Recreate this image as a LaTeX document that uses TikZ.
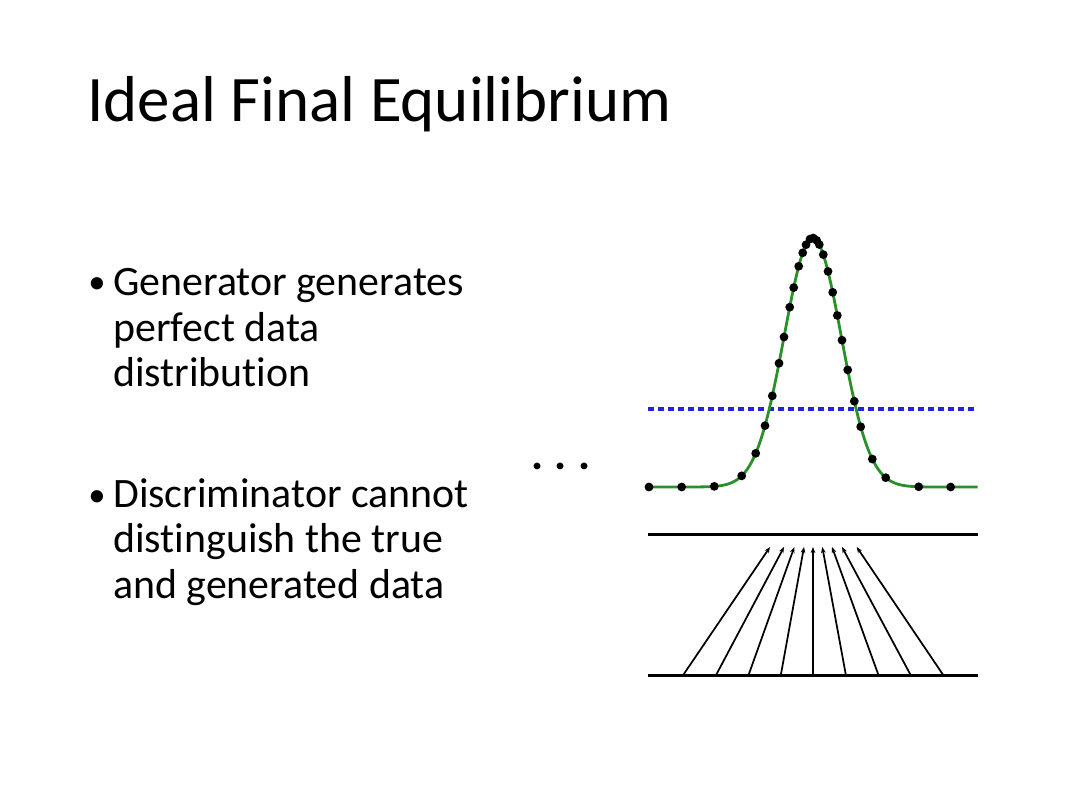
\documentclass[tikz,border=0pt]{standalone}
\usepackage{fontspec}
\setmainfont{Carlito}[Ligatures=NoCommon]
\usetikzlibrary{arrows.meta, positioning}
\definecolor{verde}{RGB}{40,145,40}
\definecolor{azul}{RGB}{35,35,215}

\begin{document}
\begin{tikzpicture}[
        x=0.75pt, y=-0.75pt,
        titulo/.style={anchor=base west, inner sep=0pt, font=\fontsize{48.7}{58}\selectfont},
        topico/.style={anchor=base west, inner sep=0pt, align=left, font=\fontsize{31.4}{34.05}\selectfont},
        marcador/.style={anchor=base west, inner sep=0pt, font=\fontsize{26}{30}\selectfont},
        curva/.style={verde, line width=2.1pt},
        amostra/.style={fill=black},
        limiar/.style={azul, line width=2.4pt, dash pattern=on 4.5pt off 3pt},
        eixo/.style={black, line width=2.2pt},
        seta/.style={black, line width=1.3pt, -{Stealth[length=4.5pt, width=3.5pt]}}
    ]
    \useasboundingbox (0,0) rectangle (1080,810);

    \node[titulo] (titulo) at (87,121) {Ideal Final Equilibrium};

    % base de cada topico = ultima linha
    \node[topico] (t1) at (113,386.7) {Generator generates\\perfect data\\distribution};
    \node[marcador] (b1) at (88,293) {•};
    \node[topico] (t2) at (113,598) {Discriminator cannot\\distinguish the true\\and generated data};
    \node[marcador] (b2) at (88,506) {•};

    \node[anchor=base, inner sep=0pt, font=\fontsize{34}{40}\bfseries] (reticencias) at (561,469.5) {.\hspace{8.5pt}.\hspace{8.5pt}.};

    % distribuicoes
    \draw[limiar] (648,409) -- (977,409);
    \draw[curva] plot[domain=-165:165, samples=150] ({812.7+\x},{487-249*exp(-(\x/40.3)^2)});
    \foreach \d in {-163.7,-131,-98.4,-71,-57,-47.7,-40.4,-33.7,-28.7,-23,-19,-14,-10,-6.7,-2.7,
                    0.6,4,6.6,10.6,15.3,20,24.6,29.3,35,41.6,48,59.6,73,106,138}
        \fill[amostra] ({812.7+\d},{487-249*exp(-(\d/40.3)^2)}) circle[radius=3.3pt];

    % mapeamento z -> x
    \coordinate (xa) at (648,534.3);
    \coordinate (xb) at (978,534.3);
    \coordinate (za) at (648,675.7);
    \coordinate (zb) at (978,675.7);
    \draw[eixo] (xa) -- (xb);
    \draw[eixo] (za) -- (zb);
    \foreach \i/\a/\b in {1/682.7/770, 2/715.7/784, 3/748.3/794.3, 4/780.7/804, 5/813/813,
                          6/846/822.3, 7/878.7/832, 8/911/842, 9/943.7/856.7} {
        \coordinate (z\i) at (\a,675.7);
        \coordinate (x\i) at (\b,547);
        \draw[seta] (z\i) -- (x\i);
    }
\end{tikzpicture}
\end{document}
